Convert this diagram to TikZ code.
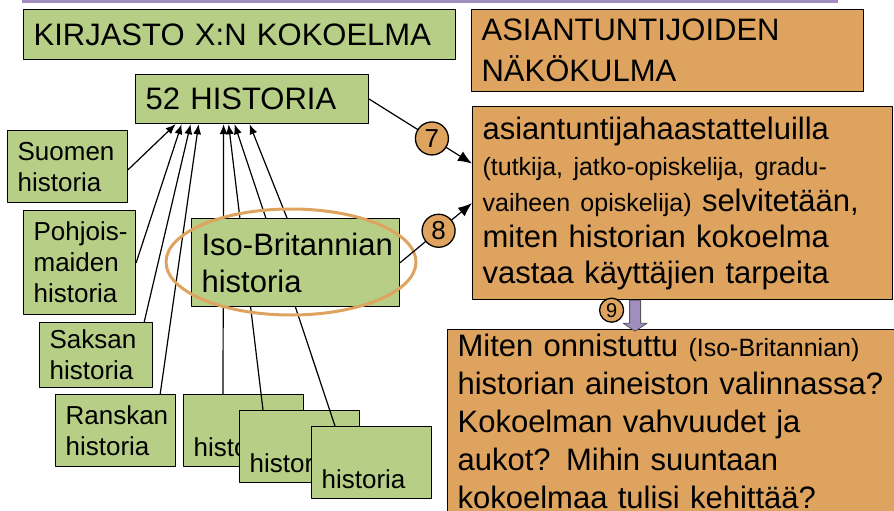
\documentclass[tikz,border=0pt]{standalone}
\usepackage{fontspec}
\setmainfont{Liberation Sans}
\usepackage{tikz}
\usetikzlibrary{arrows.meta}

\definecolor{lehti}{RGB}{182,206,134}
\definecolor{oranssi}{RGB}{222,163,94}
\definecolor{violetti}{RGB}{162,142,190}

\newcommand{\isoteksti}{\fontsize{31}{37}\selectfont}
\newcommand{\pieniteksti}{\fontsize{26}{31}\selectfont}
\newcommand{\sulkuteksti}{\fontsize{25}{30}\selectfont}

\hyphenpenalty=10000
\exhyphenpenalty=10000

\begin{document}
\begin{tikzpicture}[line cap=round, line join=round, x=1pt, y=-1pt,
        laatikko/.style={draw=black, line width=1.2pt, rectangle, anchor=north west,
            inner xsep=10pt, inner ysep=0pt, align=left},
        vihrea/.style={laatikko, fill=lehti},
        ruskea/.style={laatikko, fill=oranssi},
        numero/.style={circle, draw=black, line width=1.3pt, fill=oranssi, inner sep=0pt,
            minimum size=33pt, font=\fontsize{26}{26}\selectfont},
        nuoli/.style={line width=1.2pt, -{Latex[length=10pt,width=8pt]}},
        isonuoli/.style={line width=1.2pt, -{Latex[length=14pt,width=11pt]}}]
                \useasboundingbox (0,0) rectangle (894,511);
                \clip (0,0) rectangle (894,511);
                \draw[violetti, line width=3pt, line cap=butt] (22,1.5) -- (838,1.5);
                % otsikot
                \node[vihrea, text width=412pt, minimum height=50pt, font=\isoteksti] (kirjasto) at (23,9) {KIRJASTO X:N KOKOELMA};
                \node[ruskea, text width=372pt, minimum height=82pt, font=\fontsize{31}{41}\selectfont] (asiant) at (471,9) {ASIANTUNTIJOIDEN\\NÄKÖKULMA};
                \node[vihrea, text width=213pt, minimum height=49pt, font=\isoteksti] (hist52) at (135,74) {52 HISTORIA};
                \node[ruskea, text width=400pt, minimum height=193pt, font=\fontsize{31}{36}\selectfont] (haast) at (472,106)
                    {asiantuntijahaastatteluilla\\{\sulkuteksti (tutkija, jatko-opiskelija, gradu-}\\{\sulkuteksti vaiheen opiskelija)} selvitetään,\\miten historian kokoelma\\vastaa käyttäjien tarpeita};
                \node[ruskea, text width=440pt, inner ysep=4pt, font=\fontsize{31}{38}\selectfont] (kysym) at (447,329)
                    {Miten onnistuttu {\sulkuteksti (Iso-Britannian)}\\historian aineiston valinnassa?\\Kokoelman vahvuudet ja\\aukot? Mihin suuntaan\\kokoelmaa tulisi kehittää?};
                % alaluokat
                \node[vihrea, text width=100pt, minimum height=72pt, font=\pieniteksti] (suomen) at (7,130) {Suomen\\historia};
                \node[vihrea, text width=92pt, minimum height=104pt, font=\pieniteksti] (pohjois) at (23,210) {Pohjois-\\maiden\\historia};
                \node[vihrea, text width=93pt, minimum height=65pt, font=\pieniteksti] (saksa) at (39,322) {Saksan\\historia};
                \node[vihrea, text width=100pt, minimum height=72pt, font=\pieniteksti] (ranska) at (55,394) {Ranskan\\historia};
                \node[vihrea, text width=100pt, minimum height=72pt, font=\pieniteksti] (hista) at (183,394) {\strut\\historia};
                \node[vihrea, text width=100pt, minimum height=72pt, font=\pieniteksti] (histb) at (239,410) {\strut\\historia};
                \node[vihrea, text width=100pt, minimum height=72pt, font=\pieniteksti] (histc) at (311,426) {\strut\\historia};
                \coordinate (l1) at ([yshift=-3pt]suomen.east);
                \coordinate (l2) at (pohjois.east);
                \coordinate (l3) at ([xshift=-9pt]saksa.north east);
                \coordinate (l4) at ([xshift=-16pt]ranska.north east);
                \coordinate (l5) at ([xshift=40pt]hista.north west);
                \coordinate (l6) at ([xshift=24pt]histb.north west);
                \coordinate (l7) at ([xshift=24pt]histc.north west);
                \foreach \lahto/\siirto in {l1/-76.5, l2/-70.5, l3/-61.5, l4/-53.5, l5/-28.5, l6/-23.5, l7/-17.5}
                    \draw[nuoli] (\lahto) -- ([xshift=\siirto pt]hist52.south);
                \node[vihrea, text width=188pt, minimum height=88pt, font=\isoteksti] (iso) at (191,218) {Iso-Britannian\\historia};
                \draw[nuoli] ([xshift=96pt]iso.north west) -- ([xshift=-2.5pt]hist52.south);
                \draw[oranssi, line width=3pt] (291,262) ellipse [x radius=125pt, y radius=53pt];
                % numeroidut nuolet
                \draw[isonuoli] (hist52.east) -- node[numero, pos=0.61] (n7) {7} ([yshift=39.5pt]haast.west);
                \draw[isonuoli] (iso.east) -- node[numero, pos=0.535] (n8) {8} (haast.west);
                \coordinate (p9) at ([xshift=-47.5pt]haast.south);
                \draw[fill=violetti, draw=gray!70!black, line width=0.8pt]
                    (p9) +(-5.5,0) -- +(-5.5,23) -- +(-12,23) -- +(0,31) -- +(12,23) -- +(5.5,23) -- +(5.5,0) -- cycle;
                \node[numero, minimum size=24pt, font=\fontsize{20}{20}\selectfont] (n9) at ([shift={(-23.5,10)}]p9) {9};
            \end{tikzpicture}
\end{document}
